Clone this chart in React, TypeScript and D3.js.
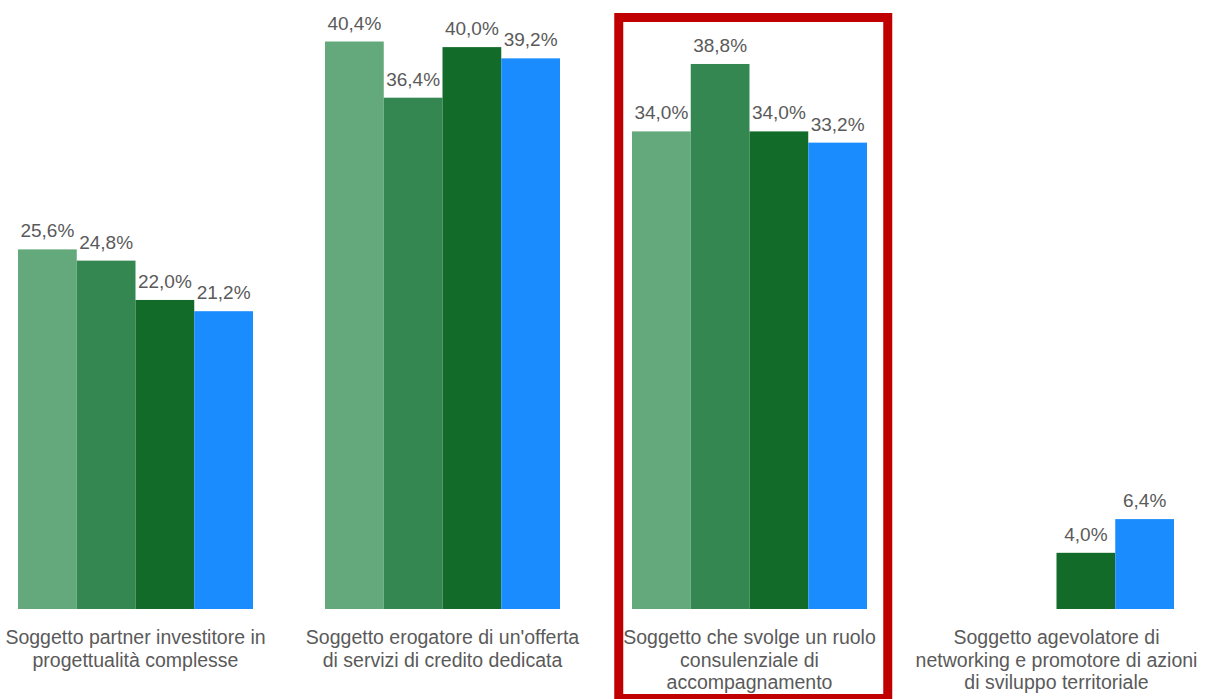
import React from "react";
import * as d3 from "d3";

const categories = [
  "Soggetto partner investitore in progettualità complesse",
  "Soggetto erogatore di un'offerta di servizi di credito dedicata",
  "Soggetto che svolge un ruolo consulenziale di accompagnamento",
  "Soggetto agevolatore di networking e promotore di azioni di sviluppo territoriale",
];
const categoryLines = [
  ["Soggetto partner investitore in", "progettualità complesse"],
  ["Soggetto erogatore di un'offerta", "di servizi di credito dedicata"],
  ["Soggetto che svolge un ruolo", "consulenziale di", "accompagnamento"],
  ["Soggetto agevolatore di", "networking e promotore di azioni", "di sviluppo territoriale"],
];
const seriesNames = ["Serie 1", "Serie 2", "Serie 3", "Serie 4"];
const series1 = [25.6, 40.4, 34.0, null];
const series2 = [24.8, 36.4, 38.8, null];
const series3 = [22.0, 40.0, 34.0, 4.0];
const series4 = [21.2, 39.2, 33.2, 6.4];
const seriesValues = [series1, series2, series3, series4];
const colors = ["#64a97b", "#348751", "#136b29", "#1b8cfe"];
const highlighted = 2;

const W = 1205;
const H = 699;
const FONT = "'Liberation Sans', Arial, sans-serif";
const TEXT = "#5a5a5a";

export default function App() {
  const x0 = d3
    .scaleBand<string>()
    .domain(categories)
    .range([-18, 1210])
    .paddingInner(72 / 307)
    .paddingOuter(36 / 307);
  const x1 = d3
    .scaleBand<string>()
    .domain(seriesNames)
    .range([0, x0.bandwidth()]);
  const y = d3.scaleLinear().domain([0, 40.4]).range([609, 41.5]);
  const fmt = (v: number) => d3.format(".1f")(v).replace(".", ",") + "%";

  const hx = x0(categories[highlighted])! + x0.bandwidth() / 2;

  return (
    <div style={{ position: "fixed", left: 0, top: 0, width: W, height: H, background: "#fff" }}>
      <svg width={W} height={H} style={{ display: "block" }}>
        <rect x={0} y={0} width={W} height={H} fill="#fff" />
        {categories.map((c, ci) => (
          <g key={c} transform={`translate(${x0(c)},0)`}>
            {seriesNames.map((s, si) => {
              const v = seriesValues[si][ci];
              if (v == null) return null;
              const bx = x1(s)!;
              return (
                <g key={s}>
                  <rect
                    x={bx}
                    y={y(v)}
                    width={x1.bandwidth()}
                    height={y(0) - y(v)}
                    fill={colors[si]}
                  />
                  <text
                    x={bx + x1.bandwidth() / 2}
                    y={y(v) - 12}
                    textAnchor="middle"
                    fontFamily={FONT}
                    fontSize={19}
                    fill={TEXT}
                  >
                    {fmt(v)}
                  </text>
                </g>
              );
            })}
            {categoryLines[ci].map((line, li) => (
              <text
                key={li}
                x={x0.bandwidth() / 2}
                y={644 + li * 22.5}
                textAnchor="middle"
                fontFamily={FONT}
                fontSize={19.5}
                fill={TEXT}
              >
                {line}
              </text>
            ))}
          </g>
        ))}
        <rect
          x={hx - 130.75}
          y={17.5}
          width={269}
          height={681}
          fill="none"
          stroke="#c00000"
          strokeWidth={9}
        />
      </svg>
    </div>
  );
}
